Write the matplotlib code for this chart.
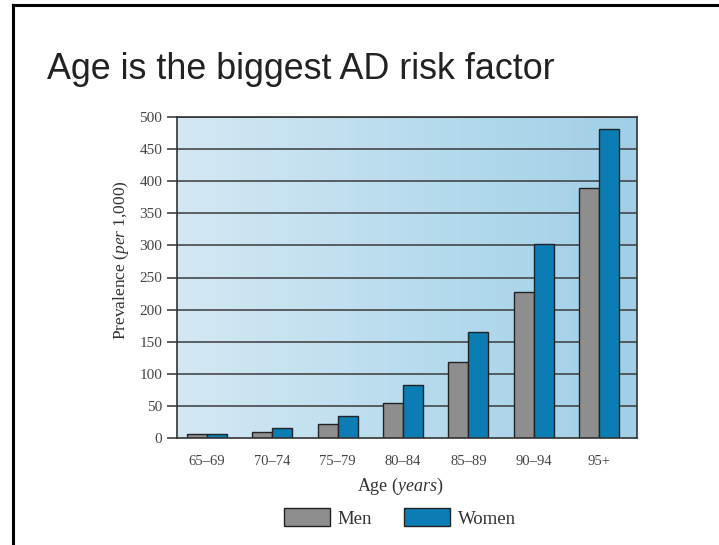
import numpy as np
import matplotlib.pyplot as plt
from matplotlib.colors import LinearSegmentedColormap
from matplotlib.lines import Line2D

# Prevalence of AD per 1,000 by age group
age_groups = ["65–69", "70–74", "75–79", "80–84", "85–89", "90–94", "95+"]
men = [7, 10, 22, 55, 119, 228, 390]
women = [7, 15, 35, 82, 165, 302, 482]
y_ticks = list(range(0, 501, 50))

plt.rcParams["mathtext.fontset"] = "custom"
plt.rcParams["mathtext.rm"] = "Liberation Serif"
plt.rcParams["mathtext.it"] = "Liberation Serif:italic"

fig = plt.figure(figsize=(7.19, 5.45), dpi=100)

# slide frame (top and left edges only, as in the cropped slide)
fig.add_artist(Line2D([13 / 719, 13 / 719], [0, 1 - 5 / 545], color="black", lw=2.2))
fig.add_artist(Line2D([13 / 719, 1], [1 - 5 / 545, 1 - 5 / 545], color="black", lw=2.2))

fig.text(47 / 719, 1 - 79 / 545, "Age is the biggest AD risk factor",
         family="Liberation Sans", fontsize=25.8, color="#222222", va="baseline")

ax = fig.add_axes([177 / 719, 107 / 545, 460 / 719, 321 / 545])

x = np.arange(len(age_groups))
w = 0.305
ax.set_xlim(-0.46, 6.58)
ax.set_ylim(0, 500)

# gradient background
cmap = LinearSegmentedColormap.from_list("bg", ["#d4e8f4", "#b9dcee", "#a0cfe6"])
grad = np.linspace(0, 1, 256).reshape(1, -1)
ax.imshow(grad, cmap=cmap, aspect="auto", extent=[-0.46, 6.58, 0, 500], zorder=0)

for yv in y_ticks[1:]:
    ax.axhline(yv, color="#3a3a3a", lw=1.1, zorder=1)

ax.bar(x - w / 2, men, w, color="#8e8e8e", edgecolor="#222222", lw=1.0, zorder=2, label="Men")
ax.bar(x + w / 2, women, w, color="#0b7db4", edgecolor="#222222", lw=1.0, zorder=2, label="Women")

for s in ax.spines.values():
    s.set_color("#333333")
    s.set_linewidth(1.2)
    s.set_zorder(3)

ax.set_yticks(y_ticks)
ax.set_xticks(x)
ax.set_xticklabels(age_groups)
ax.tick_params(axis="y", direction="out", length=7.5, width=1.1, color="#333333",
               labelsize=11, labelcolor="#444444", pad=3)
ax.tick_params(axis="x", length=0, labelsize=10.5, labelcolor="#444444", pad=12)
for lab in ax.get_xticklabels() + ax.get_yticklabels():
    lab.set_family("Liberation Serif")

ax.set_ylabel(r"Prevalence ($\mathit{per\ 1{,}000}$)", family="Liberation Serif",
              fontsize=12.5, color="#333333")
ax.yaxis.set_label_coords(-0.100, 0.555)
ax.set_xlabel(r"Age ($\mathit{years}$)", family="Liberation Serif",
              fontsize=13, color="#333333")
ax.xaxis.set_label_coords(0.485, -0.118)

fig.legend(loc="center", bbox_to_anchor=(400 / 719, 27 / 545), ncol=2, frameon=False,
           handlelength=2.45, handleheight=1.07, handletextpad=0.43, columnspacing=1.7,
           prop={"family": "Liberation Serif", "size": 13.5}, labelcolor="#333333")

fig.savefig("out.png", dpi=100)
